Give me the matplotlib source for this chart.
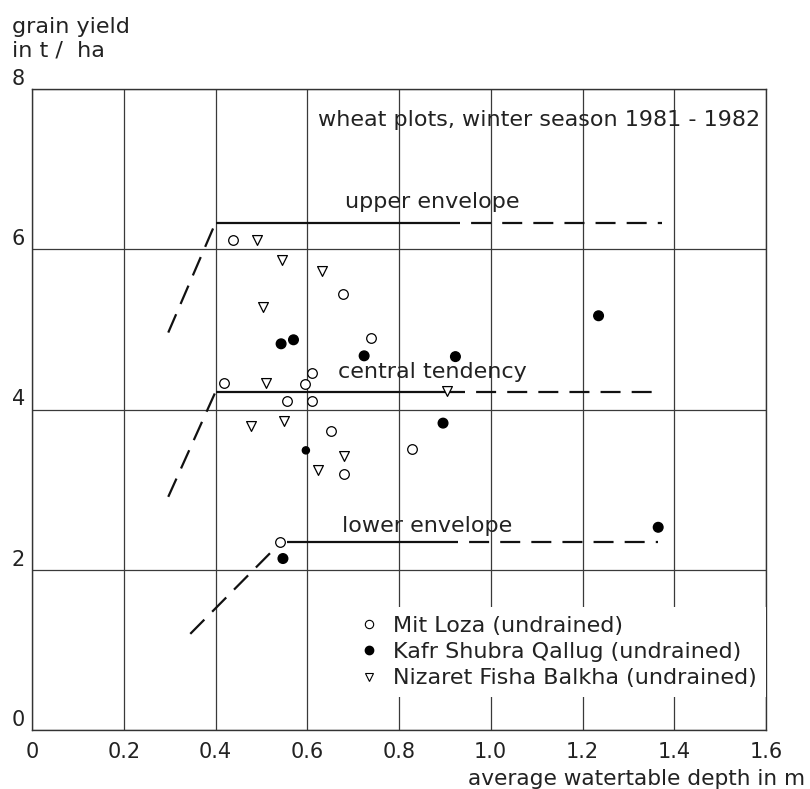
import matplotlib
matplotlib.use("Agg")
import matplotlib.pyplot as plt
from matplotlib.lines import Line2D

plt.rcParams['font.family'] = ['DejaVu Sans']

# --- plot data: watertable depth (m) vs grain yield (t/ha) ---
mit_loza_x = [0.438, 0.678, 0.739, 0.611, 0.418, 0.596, 0.556, 0.611, 0.651, 0.828, 0.680, 0.541]
mit_loza_y = [6.11, 5.44, 4.89, 4.46, 4.33, 4.32, 4.11, 4.11, 3.73, 3.51, 3.19, 2.35]

kafr_x = [0.543, 0.570, 0.724, 0.896, 0.597, 0.547, 1.235, 0.923, 1.365]
kafr_y = [4.82, 4.87, 4.67, 3.83, 3.49, 2.14, 5.17, 4.66, 2.53]
kafr_size = [48, 48, 48, 48, 26, 48, 48, 48, 48]

nizaret_x = [0.491, 0.544, 0.632, 0.504, 0.510, 0.904, 0.478, 0.550, 0.680, 0.623]
nizaret_y = [6.11, 5.86, 5.73, 5.28, 4.33, 4.23, 3.80, 3.86, 3.42, 3.24]

# envelope lines: solid part, dashed extension, dashed slope on the left
upper_y = 6.33
upper_solid = [0.40, 0.89]
upper_dash = [0.89, 1.373]
upper_slope_x = [0.297, 0.40]
upper_slope_y = [4.96, 6.33]

central_y = 4.22
central_solid = [0.40, 0.90]
central_dash = [0.90, 1.365]
central_slope_x = [0.297, 0.40]
central_slope_y = [2.91, 4.22]

lower_y = 2.35
lower_solid = [0.556, 0.885]
lower_dash = [0.885, 1.365]
lower_slope_x = [0.345, 0.535]
lower_slope_y = [1.20, 2.30]

x_ticks = [0, 0.2, 0.4, 0.6, 0.8, 1.0, 1.2, 1.4, 1.6]
x_ticklabels = ['0', '0.2', '0.4', '0.6', '0.8', '1.0', '1.2', '1.4', '1.6']
y_ticks = [0, 2, 4, 6, 8]

fig = plt.figure(figsize=(8.1, 7.89), dpi=100)
ax = fig.add_axes([32 / 810, 1 - 730 / 789, 734 / 810, 641 / 789])

ax.set_xlim(0, 1.6)
ax.set_ylim(0, 8)
ax.set_xticks(x_ticks)
ax.set_xticklabels(x_ticklabels)
ax.set_yticks(y_ticks)
ax.set_yticklabels([str(v) for v in y_ticks], va='bottom')
ax.tick_params(axis='both', length=0, labelsize=15, colors='#222222')
ax.tick_params(axis='y', pad=5)
ax.tick_params(axis='x', pad=9)
ax.grid(True, color='#3a3a3a', lw=0.9)
ax.set_axisbelow(True)
for sp in ax.spines.values():
    sp.set_color('#333333')
    sp.set_linewidth(1.0)

lw = 1.6
dash = (9, 5)
line_kw = dict(color='#111111', lw=lw, solid_capstyle='butt', zorder=3)

# envelopes
ax.plot(upper_solid, [upper_y, upper_y], **line_kw)
ax.plot(upper_dash, [upper_y, upper_y], dashes=dash, **line_kw)
ax.plot(upper_slope_x, upper_slope_y, dashes=dash, **line_kw)

ax.plot(central_solid, [central_y, central_y], **line_kw)
ax.plot(central_dash, [central_y, central_y], dashes=dash, **line_kw)
ax.plot(central_slope_x, central_slope_y, dashes=dash, **line_kw)

ax.plot(lower_solid, [lower_y, lower_y], **line_kw)
ax.plot(lower_dash, [lower_y, lower_y], dashes=dash, **line_kw)
ax.plot(lower_slope_x, lower_slope_y, dashes=dash, **line_kw)

# data points
ax.scatter(mit_loza_x, mit_loza_y, s=48, marker='o', facecolors='white',
           edgecolors='black', linewidths=0.9, zorder=5)
ax.scatter(kafr_x, kafr_y, s=kafr_size, marker='o', color='black', zorder=5)
ax.scatter(nizaret_x, nizaret_y, s=50, marker='v', facecolors='white',
           edgecolors='black', linewidths=0.9, zorder=5)

# labels inside the plot
txt_kw = dict(fontsize=16, color='#222222', zorder=6)
ax.text(0.624, 7.54, 'wheat plots, winter season 1981 - 1982', **txt_kw)
ax.text(0.683, 6.51, 'upper envelope', **txt_kw)
ax.text(0.667, 4.39, 'central tendency', **txt_kw)
ax.text(0.675, 2.47, 'lower envelope', **txt_kw)

handles = [
    Line2D([], [], ls='none', marker='o', ms=6, mfc='white', mec='black', mew=0.8),
    Line2D([], [], ls='none', marker='o', ms=6, mfc='black', mec='black'),
    Line2D([], [], ls='none', marker='v', ms=6, mfc='white', mec='black', mew=0.8),
]
labels = ['Mit Loza (undrained)', 'Kafr Shubra Qallug (undrained)',
          'Nizaret Fisha Balkha (undrained)']
leg = ax.legend(handles, labels, loc='lower right', bbox_to_anchor=(1.0, 0.051),
                borderaxespad=0, fontsize=16, frameon=True, fancybox=False,
                handlelength=0.8, handletextpad=0.7, labelspacing=0.28,
                borderpad=0.4)
leg.get_frame().set_facecolor('white')
leg.get_frame().set_edgecolor('none')
leg.get_frame().set_alpha(1)
leg.set_zorder(4)
for t in leg.get_texts():
    t.set_color('#222222')

# axis titles
fig.text(12 / 810, 1 - 33 / 789, 'grain yield', fontsize=16, color='#222222',
         ha='left', va='baseline')
fig.text(12 / 810, 1 - 57 / 789, 'in t /  ha', fontsize=16, color='#222222',
         ha='left', va='baseline')
fig.text(468 / 810, 1 - 785 / 789, 'average watertable depth in m', fontsize=15.6,
         color='#222222', ha='left', va='baseline')

fig.savefig('out.png', dpi=100)
